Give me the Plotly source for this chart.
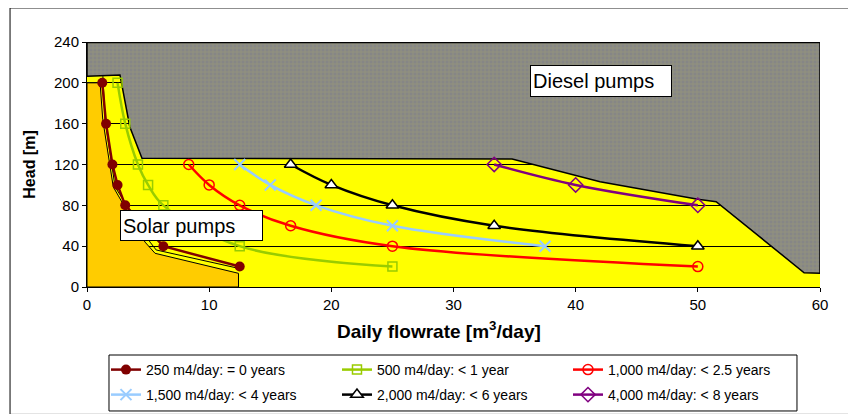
"""Solar vs diesel pumping: head vs daily flowrate"""
import plotly.graph_objects as go

# pumping-demand curves (m4/day), x = daily flowrate, y = head
heads_250 = [200, 160, 120, 100, 80, 40, 20]
flow_250 = [1.25, 1.56, 2.08, 2.5, 3.13, 6.25, 12.5]
heads_500 = [200, 160, 120, 100, 80, 40, 20]
flow_500 = [2.5, 3.13, 4.17, 5.0, 6.25, 12.5, 25.0]
heads_1000 = [120, 100, 80, 60, 40, 20]
flow_1000 = [8.33, 10.0, 12.5, 16.67, 25.0, 50.0]
heads_1500 = [120, 100, 80, 60, 40]
flow_1500 = [12.5, 15.0, 18.75, 25.0, 37.5]
heads_2000 = [120, 100, 80, 60, 40]
flow_2000 = [16.67, 20.0, 25.0, 33.33, 50.0]
heads_4000 = [120, 100, 80]
flow_4000 = [33.33, 40.0, 50.0]

# regions
diesel_x = [0, 0, 2.7, 3.5, 4.5, 34.8, 42, 50, 51.5, 58.7, 60, 60, 0]
diesel_y = [239.5, 206.5, 207.7, 157, 126, 125.4, 103, 86, 83.6, 14, 13.4, 239.5, 239.5]
solar_x = [0, 1.07, 1.29, 2.15, 4.75, 5.57, 12.4, 12.4, 0, 0]
solar_y = [200, 200, 164, 98, 44, 33, 13.4, 0, 0, 200]
edge_x = [1.3, 1.48, 2.3, 5.16, 5.66, 12.4]
edge_y = [206.5, 164, 98, 44, 36.3, 18.3]

FONT = "Liberation Sans, Arial, sans-serif"

fig = go.Figure()
fig.add_trace(go.Scatter(
    x=diesel_x, y=diesel_y, mode="lines", fill="toself",
    fillcolor="#808080",
    fillpattern=dict(shape="+", size=4, solidity=0.3, fgcolor="#a8a86c", bgcolor="#868686"),
    line=dict(color="black", width=1.5),
    showlegend=False, hoverinfo="skip",
))
fig.add_trace(go.Scatter(
    x=solar_x, y=solar_y, mode="lines", fill="toself",
    fillcolor="#FFCC00", line=dict(color="black", width=1),
    showlegend=False, hoverinfo="skip",
))
fig.add_trace(go.Scatter(
    x=edge_x, y=edge_y, mode="lines",
    line=dict(color="black", width=1),
    showlegend=False, hoverinfo="skip",
))

# (name, x, y, colour, marker, line shape, legend row)
series = [
    ("250 m4/day: = 0 years", flow_250, heads_250, "#800000",
     dict(symbol="circle", size=10, color="#800000"), "linear", "legend"),
    ("500 m4/day: < 1 year", flow_500, heads_500, "#99CC00",
     dict(symbol="square-open", size=9, color="#99CC00", line=dict(width=1.5)), "spline", "legend"),
    ("1,000 m4/day: < 2.5 years", flow_1000, heads_1000, "#FF0000",
     dict(symbol="circle-open", size=10, color="#FF0000", line=dict(width=1.5)), "spline", "legend"),
    ("1,500 m4/day: < 4 years", flow_1500, heads_1500, "#99CCFF",
     dict(symbol="x-thin-open", size=11, color="#99CCFF", line=dict(width=2)), "spline", "legend2"),
    ("2,000 m4/day: < 6 years", flow_2000, heads_2000, "#000000",
     dict(symbol="triangle-up", size=11, color="white", line=dict(color="black", width=1.5)), "spline", "legend2"),
    ("4,000 m4/day: < 8 years", flow_4000, heads_4000, "#800080",
     dict(symbol="diamond-open", size=11, color="#800080", line=dict(width=1.5)), "spline", "legend2"),
]
for name, xs, ys, col, mk, shape, leg in series:
    fig.add_trace(go.Scatter(
        x=xs, y=ys, name=name, mode="lines+markers",
        line=dict(color=col, width=2.5, shape=shape),
        marker=mk, legend=leg,
        hovertemplate="%{x:.2f} m³/day, %{y} m<extra>" + name + "</extra>",
    ))

fig.add_annotation(
    x=42.05, y=202, xref="x", yref="y", text="Diesel pumps", showarrow=False,
    font=dict(family=FONT, size=20, color="black"), align="left",
    width=136, height=26, bgcolor="white", bordercolor="black", borderwidth=1, borderpad=2,
)
fig.add_annotation(
    x=8.57, y=60.2, xref="x", yref="y", text="Solar pumps", showarrow=False,
    font=dict(family=FONT, size=20, color="black"), align="left",
    width=137, height=25, bgcolor="white", bordercolor="black", borderwidth=1, borderpad=2,
)
# x-axis title (Excel puts it a little left of the plot centre)
fig.add_annotation(
    x=0.48, y=-0.1755, xref="paper", yref="paper", showarrow=False,
    xanchor="center", yanchor="middle",
    text="<b>Daily flowrate [m<sup>3</sup>/day]</b>",
    font=dict(family=FONT, size=19, color="black"),
)

# outer chart frame and legend box
fig.add_shape(type="rect", xref="paper", yref="paper",
              x0=-0.105, x1=1.039, y0=-0.52, y1=1.139,
              line=dict(color="black", width=1))
fig.add_shape(type="rect", xref="paper", yref="paper",
              x0=0.030, x1=0.9686, y0=-0.506, y1=-0.2776,
              line=dict(color="black", width=1))

leg_common = dict(
    orientation="h", xref="paper", yref="container", xanchor="left", yanchor="top",
    x=0.0259, bgcolor="rgba(0,0,0,0)", borderwidth=0,
    font=dict(family=FONT, size=14, color="black"),
    entrywidth=186, entrywidthmode="pixels",
)

# page body keeps its default 8px margin, so the figure is 8px smaller
fig.update_layout(
    width=848, height=406,
    margin=dict(l=79, r=36, t=34, b=127),
    paper_bgcolor="white", plot_bgcolor="#FFFF00",
    font=dict(family=FONT, size=15, color="black"),
    xaxis=dict(
        range=[0, 60], dtick=10, showgrid=False, zeroline=False,
        showline=True, linecolor="black", ticks="outside", ticklen=4, tickcolor="black",
    ),
    yaxis=dict(
        range=[0, 240], dtick=40, showgrid=True, gridcolor="black", gridwidth=1,
        zeroline=False, showline=True, linecolor="black",
        ticks="outside", ticklen=4, tickcolor="black",
        title=dict(text="<b>Head [m]</b>", font=dict(size=16), standoff=14),
    ),
    legend=dict(leg_common, y=0.1478),
    legend2=dict(leg_common, y=0.0862),
    showlegend=True,
)

fig.write_html("out.html")
